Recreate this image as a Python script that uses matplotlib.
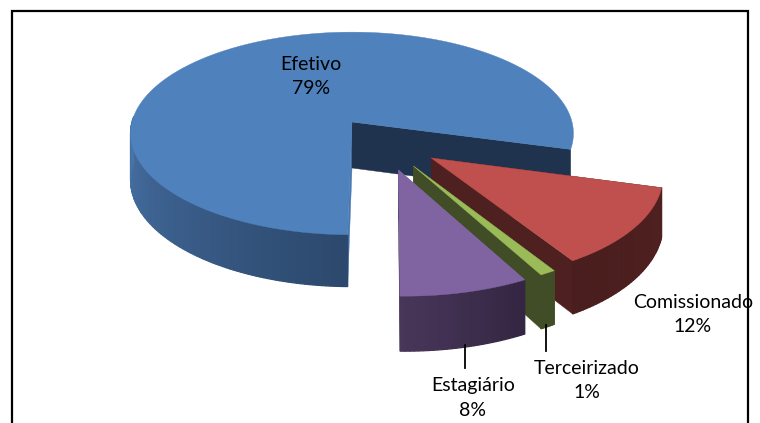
import numpy as np
import matplotlib
matplotlib.use("Agg")
import matplotlib.pyplot as plt

categories = ["Efetivo", "Comissionado", "Terceirizado", "Estagiário"]
shares = [79, 12, 1, 8]
percent_labels = ["79%", "12%", "1%", "8%"]

top_colors = ["#4F81BD", "#C0504D", "#9BBB59", "#8064A2"]
side_from = ["#4873A8", "#4F2020", "#414D26", "#342642"]
side_to = ["#2C486C", "#4A1E1E", "#414D26", "#48365A"]
edge_colors = [("#4A78B0", "#1F334F"), ("#4F2020", "#4F2020"),
               ("#414D26", "#414D26"), ("#7A6A92", "#48365A")]

# how far each slice is pulled out, in disc units (across, depth)
explode = [(0.0, 0.0), (0.346, -0.346), (0.266, -0.419), (0.20, -0.455)]
label_pos = [(311, 77), (693, 315), (587, 380), (473, 398)]

CX, CY = 352, 122
RX, RY = 220, 100
PERSP = 0.113
DEPTH = 46


def project(u, v, drop=0.0):
    # simple perspective for the tilted disc, near side gets bigger
    w = 1 + PERSP * v
    return CX + RX * u / w, CY - RY * v / w + drop / w


def lerp_color(c1, c2, t):
    a = np.array(matplotlib.colors.to_rgb(c1))
    b = np.array(matplotlib.colors.to_rgb(c2))
    return tuple(a + (b - a) * t)


fig = plt.figure(figsize=(7.6, 4.23), dpi=100)
ax = fig.add_axes([0, 0, 1, 1])
ax.set_xlim(0, 760)
ax.set_ylim(423, 0)
ax.axis("off")

# chart border, the bottom is cut off in the original
ax.plot([12, 12, 748, 748], [423, 11, 11, 423], color="black", lw=1.6, solid_joinstyle="miter")

# slices run clockwise, Efetivo begins at the front of the pie
start = -91.0
for i, share in enumerate(shares):
    sweep = share * 3.6
    thetas = np.radians(np.linspace(start, start - sweep, max(int(sweep), 6) + 1))
    du, dv = explode[i]
    us = du + np.cos(thetas)
    vs = dv + np.sin(thetas)

    # the two cut faces
    for k, theta in enumerate([thetas[0], thetas[-1]]):
        ue, ve = du + np.cos(theta), dv + np.sin(theta)
        xs, ys = zip(project(du, dv), project(ue, ve), project(ue, ve, DEPTH), project(du, dv, DEPTH))
        ax.fill(xs, ys, color=edge_colors[i][k], lw=0.3, zorder=2 + i * 3)

    # outer wall, only the part facing the viewer
    visible = [j for j in range(len(thetas) - 1)
               if np.sin(thetas[j]) < 0.05 and not (i == 0 and np.cos(thetas[j]) > 0)]
    for n, j in enumerate(visible):
        t = n / max(len(visible) - 1, 1)
        # Efetivo gets darker towards the front, which is the start of its sweep
        color = lerp_color(side_from[i], side_to[i], 1 - t if i == 0 else t)
        p = [project(us[j], vs[j]), project(us[j + 1], vs[j + 1]),
             project(us[j + 1], vs[j + 1], DEPTH), project(us[j], vs[j], DEPTH)]
        xs, ys = zip(*p)
        ax.fill(xs, ys, color=color, lw=0.9, zorder=3 + i * 3)

    # top face
    xs, ys = project(us, vs)
    ax.fill(np.r_[project(du, dv)[0], xs], np.r_[project(du, dv)[1], ys],
            color=top_colors[i], lw=0.3, zorder=4 + i * 3)
    start -= sweep

# leader lines
ax.plot([465, 465], [345, 368], color="black", lw=1.3, zorder=30)
ax.plot([546, 546], [325, 351], color="black", lw=1.3, zorder=30)

for name, pct, (x, y) in zip(categories, percent_labels, label_pos):
    ax.text(x, y, name + "\n" + pct, ha="center", va="center", fontsize=14,
            family="Lato", linespacing=1.5, color="black", zorder=31)

fig.savefig("out.png", dpi=100)
